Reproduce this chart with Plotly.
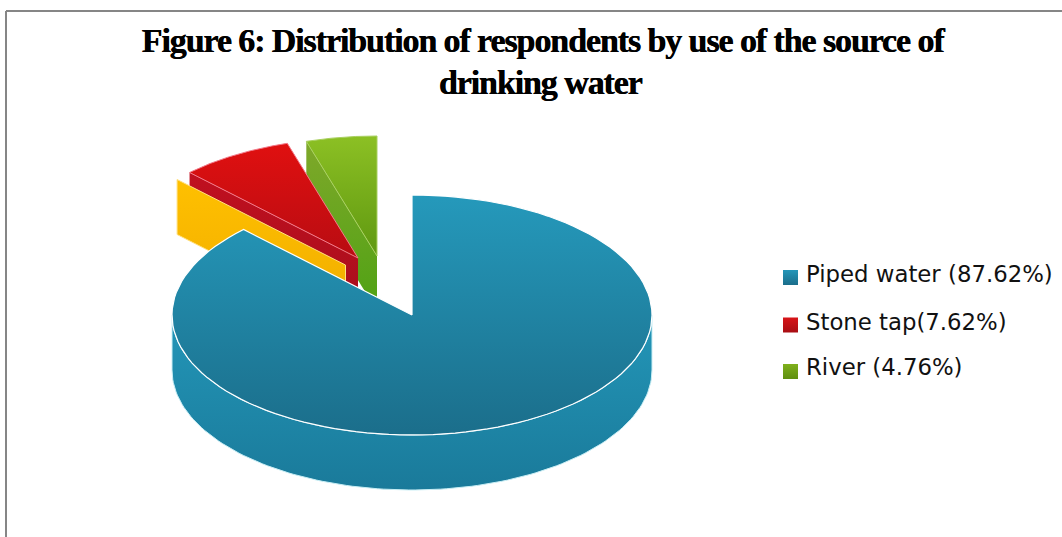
import numpy as np
import plotly.graph_objects as go

# ---- data ----
categories = ["Piped water", "Stone tap", "River"]
values = [87.62, 7.62, 4.76]
legend_labels = ["Piped water (87.62%)", "Stone tap(7.62%)", "River (4.76%)"]
title_lines = ["Figure 6: Distribution of respondents by use of the source of", "drinking water"]

# ---- geometry and style of the drawing (pixel-like axes) ----
W, H = 1062, 537
RX, RY, DEPTH = 240, 120, 55
CENTERS = {"Piped water": (412, 315), "Stone tap": (358, 258), "River": (377, 256)}
ORANGE_CENTER = (345.5, 265)
LEGEND_X, LEGEND_Y = 790.5, [277.5, 325, 371.5]
LEGEND_TEXT_X, LEGEND_TEXT_Y = 806, [276.5, 324.5, 369.5]
TITLE_X, TITLE_Y = [543, 540], [40, 82]

fracs = np.array(values) / sum(values)
starts = np.concatenate([[0], np.cumsum(fracs)[:-1]])
ends = np.cumsum(fracs)


def arc(center, a, b, n=120, dy=0):
    t = 2 * np.pi * np.linspace(a, b, n)
    return center[0] + RX * np.sin(t), center[1] + dy - RY * np.cos(t)


def poly(x, y, colors, line="rgba(0,0,0,0)", lw=0):
    # colors = (top of the picture, bottom of the picture); the y axis is reversed
    return go.Scatter(
        x=list(x), y=list(y), mode="lines", fill="toself",
        fillgradient=dict(type="vertical", colorscale=[[0, colors[1]], [1, colors[0]]]),
        line=dict(color=line, width=lw), hoverinfo="skip", showlegend=False,
    )


def wedge(center, a, b):
    x, y = arc(center, a, b)
    return np.r_[center[0], x, center[0]], np.r_[center[1], y, center[1]]


def edge_wall(center, a):
    x, y = arc(center, a, a, n=1)
    return ([center[0], x[0], x[0], center[0], center[0]],
            [center[1], y[0], y[0] + DEPTH, center[1] + DEPTH, center[1]])


fig = go.Figure()

# River (exploded)
c = CENTERS["River"]
fig.add_trace(poly(*edge_wall(c, starts[2]), ("#7fa82a", "#4fa214")))
fig.add_trace(poly(*wedge(c, starts[2], ends[2]), ("#8cc024", "#5f9810"), "#a9d060", 1))

# Stone tap (exploded)
c = CENTERS["Stone tap"]
fig.add_trace(poly(*edge_wall(c, starts[1]), ("#c01020", "#a80e1c")))
fig.add_trace(poly(*wedge(c, starts[1], ends[1]), ("#e01010", "#b80c12"), "#f27a8a", 1))

# Orange cut face that sits behind the main slice
fig.add_trace(poly(*edge_wall(ORANGE_CENTER, starts[1]), ("#ffc000", "#f0ac00"), "#ffe080", 1))

# Piped water: outer wall, then top face
c = CENTERS["Piped water"]
x1, y1 = arc(c, 0.25, 0.75)
x2, y2 = arc(c, 0.75, 0.25, dy=DEPTH)
fig.add_trace(poly(np.r_[x1, x2, x1[0]], np.r_[y1, y2, y1[0]], ("#2396b8", "#1a7a9a"), "#c8eef5", 1))
fig.add_trace(poly(*wedge(c, starts[0], ends[0]), ("#2599bb", "#1b6e8b"), "#ffffff", 1.2))

# Legend
legend_colors = [("#2596b8", "#1b6e8b"), ("#d81418", "#a80e14"), ("#7fb01c", "#5f8f10")]
for label, ly, ty, col in zip(legend_labels, LEGEND_Y, LEGEND_TEXT_Y, legend_colors):
    fig.add_trace(go.Scatter(
        x=[LEGEND_X], y=[ly], mode="markers",
        marker=dict(symbol="square", size=15, color=col[0],
                    gradient=dict(type="vertical", color=col[1])),
        hoverinfo="skip", showlegend=False,
    ))
    fig.add_trace(go.Scatter(
        x=[LEGEND_TEXT_X], y=[ty], mode="text", text=[label], textposition="middle right",
        textfont=dict(family="DejaVu Sans", size=22.8, color="#111111"),
        hoverinfo="skip", showlegend=False,
    ))

annotations = [
    dict(x=xx, y=yy, xref="x", yref="y", text=f"<b>{t}</b>", showarrow=False, xanchor="center", yanchor="middle",
         font=dict(family="Liberation Serif", size=34, color="#000000", shadow="0.5px 0 0 #000000"))
    for t, xx, yy in zip(title_lines, TITLE_X, TITLE_Y)
]

shapes = [
    dict(type="line", xref="x", yref="y", x0=6, x1=6, y0=11, y1=H, line=dict(color="#868686", width=2)),
    dict(type="line", xref="x", yref="y", x0=6, x1=W, y0=11, y1=11, line=dict(color="#868686", width=2)),
]

fig.update_layout(
    width=W, height=H, autosize=False, margin=dict(l=0, r=0, t=0, b=0),
    paper_bgcolor="white", plot_bgcolor="white", showlegend=False,
    xaxis=dict(range=[0, W], visible=False, fixedrange=True),
    yaxis=dict(range=[H, 0], visible=False, fixedrange=True),
    annotations=annotations, shapes=shapes,
)
post = """
document.body.style.margin = '0';
document.querySelectorAll('.annotation-text').forEach(function (t) {
    t.style.letterSpacing = '-1.1px';
});
"""
fig.write_html("out.html", config={"displayModeBar": False}, post_script=post)
